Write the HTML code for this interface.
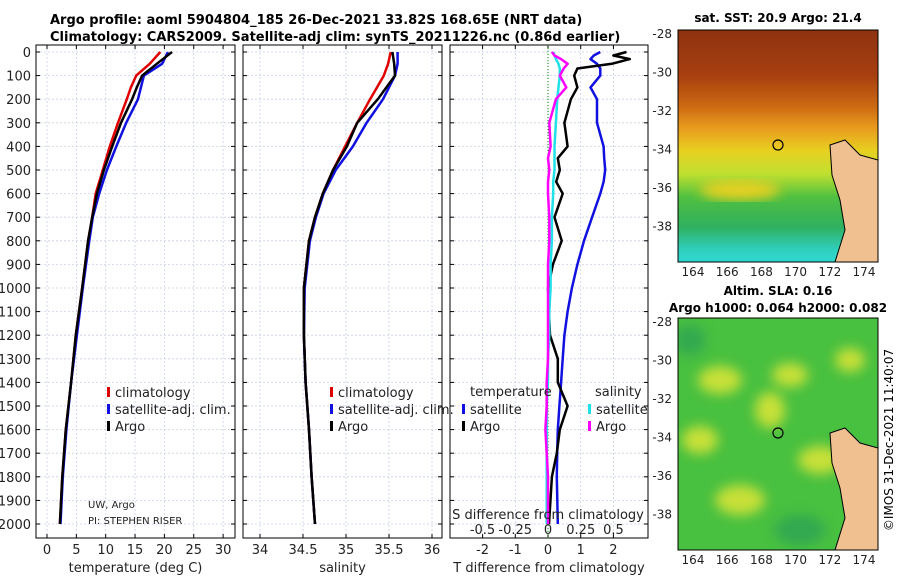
<!DOCTYPE html>
<html><head><meta charset="utf-8"><style>
body{margin:0;background:#fff;width:900px;height:580px;overflow:hidden}
svg{font-family:"DejaVu Sans","Liberation Sans",sans-serif}
</style></head><body>
<svg id="fig" width="900" height="580" xmlns="http://www.w3.org/2000/svg">
<defs>
<linearGradient id="sstg" x1="0" y1="0" x2="0" y2="1">
<stop offset="0" stop-color="#8e3210"/><stop offset="0.2" stop-color="#a84010"/><stop offset="0.33" stop-color="#cc6a12"/><stop offset="0.42" stop-color="#e89a1e"/><stop offset="0.52" stop-color="#e8d020"/><stop offset="0.62" stop-color="#c0e030"/><stop offset="0.72" stop-color="#50c040"/><stop offset="0.85" stop-color="#30b060"/><stop offset="0.95" stop-color="#30d0c0"/><stop offset="1" stop-color="#30d8d0"/>
</linearGradient>
<filter id="bl"><feGaussianBlur stdDeviation="6"/></filter>
<clipPath id="c1"><rect x="678" y="30" width="200" height="232"/></clipPath>
<clipPath id="c2"><rect x="678" y="318" width="200" height="232"/></clipPath>
</defs>
<text x="50" y="24" font-size="13" font-weight="bold">Argo profile: aoml 5904804_185 26-Dec-2021 33.82S 168.65E (NRT data)</text>
<text x="50" y="41" font-size="13" font-weight="bold">Climatology: CARS2009. Satellite-adj clim: synTS_20211226.nc (0.86d earlier)</text>
<g id="plots"></g>
<g>
<text x="778" y="22" font-size="12" font-weight="bold" text-anchor="middle">sat. SST: 20.9 Argo: 21.4</text>
<g clip-path="url(#c1)">
<rect x="678" y="30" width="200" height="232" fill="url(#sstg)"/>
<ellipse cx="740" cy="190" rx="40" ry="10" fill="#e8d020" filter="url(#bl)"/>
<path d="M830 145 L845 140 L860 155 L878 160 L878 262 L835 262 L845 230 L840 200 L832 175 Z" fill="#f0c090" stroke="#000" stroke-width="1"/>
<circle cx="778" cy="145" r="5" fill="none" stroke="#000" stroke-width="1.2"/>
</g>
<rect x="678" y="30" width="200" height="232" fill="none" stroke="#000"/>
</g>
<g>
<text x="778" y="295" font-size="12" font-weight="bold" text-anchor="middle">Altim. SLA: 0.16</text>
<text x="778" y="312" font-size="12" font-weight="bold" text-anchor="middle">Argo h1000: 0.064 h2000: 0.082</text>
<g clip-path="url(#c2)">
<rect x="678" y="318" width="200" height="232" fill="#48c040"/>
<g filter="url(#bl)" fill="#c8e038">
<ellipse cx="720" cy="380" rx="22" ry="14"/><ellipse cx="790" cy="375" rx="18" ry="12"/><ellipse cx="770" cy="410" rx="15" ry="18"/><ellipse cx="700" cy="440" rx="18" ry="14"/><ellipse cx="820" cy="460" rx="22" ry="14"/><ellipse cx="740" cy="500" rx="25" ry="15"/><ellipse cx="850" cy="360" rx="15" ry="12"/>
</g>
<g filter="url(#bl)" fill="#30a850"><ellipse cx="690" cy="340" rx="15" ry="15"/><ellipse cx="800" cy="530" rx="25" ry="15"/></g>
<path d="M830 433 L845 428 L860 443 L878 448 L878 550 L835 550 L845 518 L840 488 L832 463 Z" fill="#f0c090" stroke="#000" stroke-width="1"/>
<circle cx="778" cy="433" r="5" fill="none" stroke="#000" stroke-width="1.2"/>
</g>
<rect x="678" y="318" width="200" height="232" fill="none" stroke="#000"/>
</g>
<text transform="translate(893,440) rotate(-90)" font-size="12" text-anchor="middle">©IMOS 31-Dec-2021 11:40:07</text>
</svg>
<script>
const depths=[0,50,100,150,200,300,400,500,600,700,800,1000,1200,1400,1600,1800,2000];
const tClim=[19.3,17.5,15.2,14.3,13.6,12.1,10.7,9.5,8.3,7.7,7.0,6.0,4.9,4.1,3.2,2.6,2.2];
const tSat=[20.6,19.6,16.5,16.0,15.5,13.5,11.8,10.2,8.9,7.8,7.2,6.1,5.1,4.1,3.3,2.7,2.3];
const tArgo=[21.3,18.7,16.2,15.3,14.5,12.6,11.1,9.7,8.5,7.7,7.0,6.0,4.9,4.1,3.2,2.6,2.2];
const sClim=[35.52,35.49,35.44,35.36,35.28,35.13,34.99,34.85,34.73,34.64,34.57,34.51,34.51,34.53,34.57,34.60,34.64];
const sSat=[35.60,35.60,35.57,35.50,35.43,35.24,35.08,34.88,34.74,34.65,34.58,34.52,34.51,34.53,34.57,34.60,34.64];
const sArgo=[35.54,35.56,35.57,35.47,35.37,35.13,35.01,34.85,34.73,34.64,34.57,34.51,34.51,34.53,34.57,34.60,34.64];
const dDepths=[0,15,30,50,70,100,150,200,300,400,450,500,550,600,700,800,900,1000,1100,1200,1300,1400,1500,1600,1700,1800,2000];
const dtSat=[1.6,1.4,1.3,1.5,1.6,1.6,1.3,1.5,1.5,1.7,1.72,1.75,1.7,1.6,1.35,1.1,0.9,0.73,0.6,0.5,0.45,0.4,0.35,0.3,0.28,0.27,0.3];
const dtArgo=[2.4,2.0,2.5,1.95,0.9,0.8,0.9,0.7,0.5,0.6,0.3,0.36,0.25,0.45,0.2,0.42,0.15,0.0,0.03,0.06,0.3,0.3,0.6,0.36,0.27,0.12,0.03];
const dsSat=[0.04,0.05,0.06,0.08,0.09,0.09,0.08,0.07,0.06,0.05,0.05,0.05,0.04,0.04,0.03,0.03,0.02,0.02,0.01,0.01,0.0,0.0,-0.01,-0.01,-0.01,-0.01,-0.01];
const dsArgo=[0.03,0.05,0.1,0.15,0.12,0.09,0.14,0.06,0.01,0.02,0.0,0.01,0.0,0.0,0.01,0.01,0.0,0.0,0.0,0.0,0.0,-0.01,-0.01,-0.02,-0.01,0.0,0.0];
const depthTicks=[0,100,200,300,400,500,600,700,800,900,1000,1100,1200,1300,1400,1500,1600,1700,1800,1900,2000];
const tTicks=[0,5,10,15,20,25,30];
const sTicks=[34,34.5,35,35.5,36];
const dTTicks=[-2,-1,0,1,2];
const dSTicks=[-0.5,-0.25,0,0.25,0.5];
const NS='http://www.w3.org/2000/svg';
const g=document.getElementById('plots');
const Y0=52,Y1=524,TOP=45,BOT=538;
const yD=d=>Y0+(Y1-Y0)*d/2000;
function el(t,a,p){const e=document.createElementNS(NS,t);for(const k in a)e.setAttribute(k,a[k]);(p||g).appendChild(e);return e;}
function txt(x,y,s,o,p){const e=el('text',Object.assign({x:x,y:y,'font-size':13,fill:'#222'},o||{}),p);e.textContent=s;return e;}
function panel(name,L,R,ticks,xf,xlabel,fmt){
  const pg=el('g',{});
  
  
  depthTicks.forEach(d=>{el('line',{x1:L,x2:R,y1:yD(d),y2:yD(d),stroke:'#c8d0e8','stroke-dasharray':'2,2','stroke-width':0.8},pg);
    el('line',{x1:L,x2:L+4,y1:yD(d),y2:yD(d),stroke:'#000'},pg);el('line',{x1:R-4,x2:R,y1:yD(d),y2:yD(d),stroke:'#000'},pg);});
  ticks.forEach(v=>{const x=xf(v);el('line',{x1:x,x2:x,y1:TOP,y2:BOT,stroke:'#c8d0e8','stroke-dasharray':'2,2','stroke-width':0.8},pg);
    el('line',{x1:x,x2:x,y1:BOT-4,y2:BOT,stroke:'#000'},pg);el('line',{x1:x,x2:x,y1:TOP,y2:TOP+4,stroke:'#000'},pg);
    if(fmt){const t=txt(x,554,fmt(v),{'text-anchor':'middle'},pg);}});
  el('rect',{x:L,y:TOP,width:R-L,height:BOT-TOP,fill:'none',stroke:'#000'},pg);
  if(xlabel){const t=txt((L+R)/2,572,xlabel,{'text-anchor':'middle'},pg);}
  return pg;
}
function line(pg,name,xs,ds,xf,col,w){const pts=xs.map((v,i)=>xf(v).toFixed(1)+','+yD(ds[i]).toFixed(1)).join(' ');
  const p=el('polyline',{points:pts,fill:'none',stroke:col,'stroke-width':w||2.5,'stroke-linejoin':'round'},pg);
  
  }
function leg(pg,x,y,col,label){el('rect',{x:x,y:y-9,width:3,height:10,fill:col},pg);txt(x+8,y+1,label,{},pg);}
depthTicks.forEach(d=>{const t=txt(31,yD(d)+5,String(d),{'text-anchor':'end'});});
const xT=v=>47+v*5.87;
const p1=panel('temperature-panel',36,235,tTicks,xT,'temperature (deg C)',v=>String(v));
line(p1,'temperature-climatology-line',tClim,depths,xT,'#e00000');
line(p1,'temperature-satellite-line',tSat,depths,xT,'#1010e0');
line(p1,'temperature-argo-line',tArgo,depths,xT,'#000');
leg(p1,107,396,'#e00000','climatology');leg(p1,107,413,'#1010e0','satellite-adj. clim.');leg(p1,107,430,'#000','Argo');
txt(88,508,'UW, Argo',{'font-size':10},p1);txt(88,524,'PI: STEPHEN RISER',{'font-size':10},p1);
const xS=v=>260+(v-34)*86;
const p2=panel('salinity-panel',243,442,sTicks,xS,'salinity',v=>String(v));
line(p2,'salinity-climatology-line',sClim,depths,xS,'#e00000');
line(p2,'salinity-satellite-line',sSat,depths,xS,'#1010e0');
line(p2,'salinity-argo-line',sArgo,depths,xS,'#000');
leg(p2,330,396,'#e00000','climatology');leg(p2,330,413,'#1010e0','satellite-adj. clim.');leg(p2,330,430,'#000','Argo');
const xdT=v=>548+v*32.7, xdS=v=>548+v*131;
const p3=panel('difference-panel',450,648,dTTicks,xdT,'T difference from climatology',v=>String(v));
el('line',{x1:548,x2:548,y1:TOP,y2:BOT,stroke:'#080','stroke-dasharray':'1,2'},p3);
line(p3,'t-diff-satellite-line',dtSat,dDepths,xdT,'#1010e0');
line(p3,'t-diff-argo-line',dtArgo,dDepths,xdT,'#000');
line(p3,'s-diff-satellite-line',dsSat,dDepths,xdS,'#20e0e8');
line(p3,'s-diff-argo-line',dsArgo,dDepths,xdS,'#ff00ff');
txt(470,396,'temperature',{},p3);txt(595,396,'salinity',{},p3);
leg(p3,462,413,'#1010e0','satellite');leg(p3,462,430,'#000','Argo');
leg(p3,588,413,'#20e0e8','satellite');leg(p3,588,430,'#ff00ff','Argo');
txt(548,519,'S difference from climatology',{'text-anchor':'middle'},p3);
dSTicks.forEach(v=>{const t=txt(xdS(v),534,String(v),{'text-anchor':'middle'},p3);});
const lat=[-28,-30,-32,-34,-36,-38], lon=[164,166,168,170,172,174];
function mapTicks(top){
  lat.forEach(v=>{const y=top+3+(-28-v)*19.25;const t=txt(672,y+5,String(v),{'text-anchor':'end','font-size':12});
    el('line',{x1:678,x2:682,y1:y,y2:y,stroke:'#000'});});
  lon.forEach(v=>{const x=693+(v-164)*17.1;const t=txt(x,top+246,String(v),{'text-anchor':'middle','font-size':12});
    el('line',{x1:x,x2:x,y1:top+228,y2:top+232,stroke:'#000'});});
}
mapTicks(30);mapTicks(318);
</script>
</body></html>
